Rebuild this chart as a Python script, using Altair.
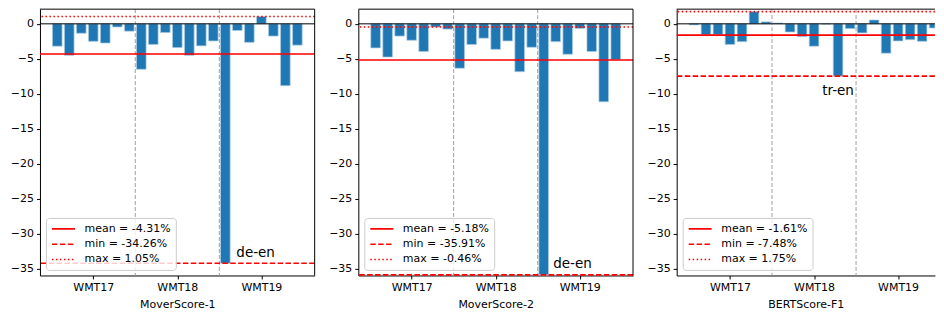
import altair as alt
import pandas as pd

groups = ["WMT17", "WMT18", "WMT19"]
metrics = ["MoverScore-1", "MoverScore-2", "BERTScore-F1"]
tick_pos = [3, 10, 17]
dividers = [6.5, 13.5]

mover1 = [-3.2, -4.5, -1.35, -2.5, -2.75, -0.45, -1.05,
          -6.5, -2.95, -1.25, -3.4, -4.5, -3.15, -2.45,
          -34.26, -0.95, -2.65, 1.05, -1.75, -8.85, -3.05]
mover2 = [-3.45, -4.75, -1.75, -2.35, -3.95, -0.46, -0.75,
          -6.35, -2.95, -2.05, -3.65, -2.45, -6.85, -3.35,
          -35.91, -2.55, -4.35, -0.65, -3.95, -11.15, -5.15]
bertf1 = [-0.15, -1.55, -1.55, -2.95, -2.55, 1.75, 0.28,
          0.12, -1.17, -1.83, -3.2, -0.05, -7.48, -0.68,
          -1.3, 0.55, -4.2, -2.45, -2.27, -2.5, -0.6]
series = [mover1, mover2, bertf1]

means = [-4.31, -5.18, -1.61]
mins = [-34.26, -35.91, -7.48]
maxs = [1.05, -0.46, 1.75]

ann_labels = ["de-en", "de-en", "tr-en"]
ann_index = [14, 14, 12]
ann_align = ["left", "left", "center"]
ann_dx = [11, 9.5, 0]
ann_dy = [-6, -7, 18.6]

FONT = "DejaVu Sans"
PX_PER_UNIT = 275 / 22.88
X_MIN = -1.44
H = 266.6

label_expr = (f"datum.value == {tick_pos[0]} ? '{groups[0]}' : "
              f"datum.value == {tick_pos[1]} ? '{groups[1]}' : '{groups[2]}'")


def panel(i, width, right_border=True):
    xmax = X_MIN + width / PX_PER_UNIT
    xs = alt.Scale(domain=[X_MIN, xmax], nice=False, zero=False, clamp=True)
    ys = alt.Scale(domain=[-36.0, 2.1], nice=False, zero=False)
    xaxis = alt.Axis(values=tick_pos, labelExpr=label_expr, title=metrics[i], grid=False)
    yaxis = alt.Axis(values=list(range(-35, 1, 5)), title=None, grid=False)
    df = pd.DataFrame({"idx": list(range(len(series[i]))), "value": series[i]})

    bars = alt.Chart(df).transform_calculate(
        x0="datum.idx - 0.4", x1="datum.idx + 0.4"
    ).mark_bar(color="#1f77b4", stroke="#a9cbe3", strokeWidth=0.7).encode(
        x=alt.X("x0:Q", scale=xs, axis=xaxis),
        x2="x1:Q",
        y=alt.Y("value:Q", scale=ys, axis=yaxis),
        y2=alt.datum(0),
    )

    divs = alt.Chart(pd.DataFrame({"x": dividers})).mark_rule(
        color="#a0a0a0", strokeDash=[4, 2], strokeWidth=1
    ).encode(x=alt.X("x:Q", scale=xs, axis=xaxis))

    zero = alt.Chart(pd.DataFrame({"y": [0]})).mark_rule(
        color="black", strokeWidth=1
    ).encode(y=alt.Y("y:Q", scale=ys, axis=yaxis))

    labels = [f"mean = {means[i]:.2f}%", f"min = {mins[i]:.2f}%", f"max = {maxs[i]:.2f}%"]
    stats = pd.DataFrame({"label": labels, "v": [means[i], mins[i], maxs[i]]})
    stat_rules = alt.Chart(stats).mark_rule(color="red", strokeWidth=1.6).encode(
        y=alt.Y("v:Q", scale=ys, axis=yaxis),
        strokeDash=alt.StrokeDash(
            "label:N",
            sort=labels,
            scale=alt.Scale(domain=labels, range=[[1, 0], [5.5, 2.4], [1.5, 2.5]]),
            legend=alt.Legend(
                title=None, orient="bottom-left", offset=5.5, padding=5,
                fillColor="rgba(255,255,255,0.8)", strokeColor="#cccccc",
                cornerRadius=3, symbolType="M-1,0H3.6", symbolSize=100,
                symbolStrokeColor="red", symbolStrokeWidth=1.6,
                symbolFillColor="transparent",
                labelFont=FONT, labelFontSize=11, labelColor="black",
                labelOffset=21.6, rowPadding=4.3, labelLimit=300,
            ),
        ),
    )

    ann = alt.Chart(pd.DataFrame({
        "x": [ann_index[i]], "y": [mins[i]], "t": [ann_labels[i]]
    })).mark_text(
        align=ann_align[i], baseline="alphabetic", dx=ann_dx[i], dy=ann_dy[i],
        font=FONT, fontSize=13.5, color="black"
    ).encode(
        x=alt.X("x:Q", scale=xs, axis=xaxis),
        y=alt.Y("y:Q", scale=ys, axis=yaxis),
        text="t:N",
    )

    one = pd.DataFrame({"a": [0]})
    top = alt.Chart(one).mark_rule(color="black", strokeWidth=1).encode(y=alt.value(0))
    layers = [bars, divs, zero, stat_rules, ann, top]
    if right_border:
        right = alt.Chart(one).mark_rule(color="black", strokeWidth=1).encode(
            x=alt.value(width))
        layers.append(right)
    return alt.layer(*layers).properties(width=width, height=H)


p1 = panel(0, 275)
p2 = panel(1, 275)
p3 = panel(2, 258.5, right_border=False)

chart = alt.hconcat(p1, p2, p3, spacing=43.7, bounds="flush").resolve_scale(
    x="independent", y="independent", strokeDash="independent"
).resolve_legend(strokeDash="independent").properties(
    padding={"left": 2, "top": 0, "right": 0, "bottom": 0}
).configure(font=FONT).configure_view(stroke=None).configure_legend(
    labelFont=FONT, labelFontSize=11
).configure_axis(
    labelFont=FONT, labelFontSize=11, labelColor="black",
    titleFont=FONT, titleFontSize=11, titleColor="black", titleFontWeight="normal",
    domainColor="black", domainWidth=1, tickColor="black", tickSize=3.5,
    labelPadding=3, titlePadding=6, grid=False,
)

chart.save("out.html", embed_options={"renderer": "svg", "actions": False})
